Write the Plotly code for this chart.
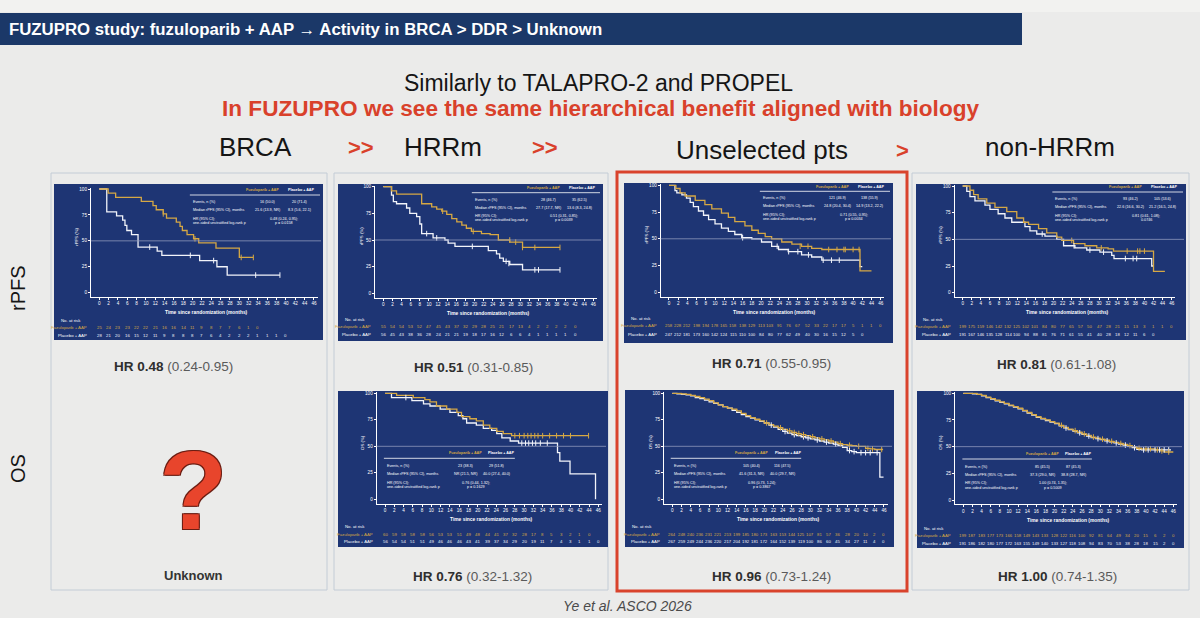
import plotly.graph_objects as go

W, H = 1200, 618
FONT = "Liberation Sans, Arial, sans-serif"
BG = "#ebebea"
NAVY = "#1e3574"
GOLD = "#d6a844"
WHITE = "#f2f4fa"
RED = "#d9412b"
TINY = 4.3
TAB = 3.7

# ---------------- data ----------------
tick_months = list(range(0, 47, 2))

# BRCA rPFS
brca_rpfs_fuzu_t = [0, 1.9, 3.5, 9.0, 11.5, 12.2, 13.7, 14.4, 16.5, 17.3, 17.8, 18.8, 20.2, 21.3, 25.0, 30.0, 33.0]
brca_rpfs_fuzu_s = [100, 96, 92, 88, 84, 80, 76, 72, 68, 64, 60, 56, 52, 48, 43, 34, 34]
brca_rpfs_plac_t = [0, 1.6, 3.7, 5.0, 5.5, 5.9, 6.9, 8.3, 12.4, 13.4, 21.5, 25.2, 27.4, 38.7]
brca_rpfs_plac_s = [100, 78, 74, 70, 65, 60, 56, 44, 40, 36, 31, 25, 17, 17]
brca_rpfs_fuzu_cens_t = [13.7, 20.5, 30.4, 33.0]
brca_rpfs_fuzu_cens_s = [76, 52, 34, 34]
brca_rpfs_plac_cens_t = [10.8, 19.5, 24.5, 33.5, 38.7]
brca_rpfs_plac_cens_s = [44, 36, 31, 17, 17]
brca_rpfs_risk_fuzu = [25, 24, 23, 23, 22, 22, 21, 16, 16, 14, 11, 9, 8, 7, 7, 6, 1, 0]
brca_rpfs_risk_plac = [28, 21, 20, 16, 15, 12, 11, 9, 8, 8, 8, 7, 6, 4, 2, 2, 2, 1, 1, 1, 0]
brca_rpfs_table = [("16 (50.0)", "20 (71.4)"), ("21.6 (13.9, NR)", "8.3 (5.6, 22.1)"), "0.48 (0.24, 0.95);", "p = 0.0158"]

# HRRm rPFS
hrrm_rpfs_fuzu_t = [0, 1.8, 2.9, 8.4, 10.6, 11.7, 12.8, 13.9, 15.0, 16.1, 17.2, 18.2, 19.3, 21.5, 23.4, 25.2, 27.7, 30.5, 38.7]
hrrm_rpfs_fuzu_s = [100, 96, 93, 84, 81, 79, 77, 74, 70, 67, 64, 61, 58, 56, 55, 50, 48, 43, 43]
hrrm_rpfs_plac_t = [0, 1.8, 2.2, 2.9, 5.1, 5.8, 7.3, 8.0, 8.4, 10.9, 13.5, 14.2, 15.7, 23.0, 24.8, 25.5, 26.3, 27.7, 30.5, 38.7]
hrrm_rpfs_plac_s = [100, 92, 86, 84, 80, 75, 72, 65, 56, 52, 50, 47, 44, 40, 37, 33, 30, 27, 22, 22]
hrrm_rpfs_fuzu_cens_t = [13.0, 19.7, 27.7, 29.0, 30.5, 33.2, 38.7]
hrrm_rpfs_fuzu_cens_s = [77, 58, 50, 48, 43, 43, 43]
hrrm_rpfs_plac_cens_t = [9.5, 11.7, 19.5, 26.9, 27.5, 33.2, 34.0, 38.7]
hrrm_rpfs_plac_cens_s = [56, 52, 44, 30, 28, 22, 22, 22]
hrrm_rpfs_risk_fuzu = [55, 54, 54, 53, 52, 47, 45, 43, 37, 32, 29, 28, 25, 21, 17, 13, 4, 2, 2, 2, 2, 0]
hrrm_rpfs_risk_plac = [56, 45, 43, 38, 36, 28, 24, 21, 21, 19, 18, 17, 16, 12, 6, 6, 4, 1, 1, 1, 1, 0]
hrrm_rpfs_table = [("28 (46.7)", "35 (62.5)"), ("27.7 (17.7, NR)", "13.6 (8.3, 24.8)"), "0.51 (0.31, 0.85);", "p = 0.0039"]

# Unselected rPFS
unsel_rpfs_fuzu_t = [0, 1.5, 2.4, 3.5, 5.7, 7.8, 9.3, 11.4, 12.9, 14.3, 16.5, 18.0, 19.4, 20.9, 22.3, 24.5, 26.7, 28.8, 31.0, 33.2, 41.5, 44.0]
unsel_rpfs_fuzu_s = [100, 97, 93, 90, 86, 82, 78, 74, 70, 66, 62, 58, 55, 52, 50, 47, 45, 43, 41, 40, 20, 20]
unsel_rpfs_plac_t = [0, 1.3, 1.7, 2.8, 3.8, 4.6, 5.3, 6.4, 7.5, 8.6, 10.0, 11.4, 12.9, 14.3, 15.8, 18.0, 20.1, 22.3, 23.8, 25.9, 28.8, 31.0, 33.2, 41.5, 42.0]
unsel_rpfs_plac_s = [100, 95, 93, 91, 88, 84, 80, 76, 72, 68, 64, 60, 57, 54, 51, 50, 47, 43, 40, 38, 35, 33, 30, 24, 24]
unsel_rpfs_fuzu_cens_t = [28.5, 30.2, 34.7, 36.5, 38.0, 38.3, 40.0, 41.3]
unsel_rpfs_fuzu_cens_s = [43, 43, 40, 40, 40, 40, 40, 40]
unsel_rpfs_plac_cens_t = [16.0, 23.5, 26.0, 28.0, 30.3, 33.5, 35.3, 37.0]
unsel_rpfs_plac_cens_s = [51, 43, 38, 38, 35, 30, 30, 30]
unsel_rpfs_risk_fuzu = [258, 228, 212, 198, 194, 178, 165, 158, 138, 129, 113, 103, 91, 76, 67, 52, 33, 22, 17, 17, 5, 1, 1, 0]
unsel_rpfs_risk_plac = [247, 212, 181, 173, 160, 142, 124, 115, 110, 100, 84, 80, 77, 62, 49, 40, 30, 16, 15, 12, 5, 0]
unsel_rpfs_table = [("121 (46.9)", "138 (55.9)"), ("24.8 (20.4, 30.4)", "14.9 (13.2, 22.2)"), "0.71 (0.55, 0.95);", "p = 0.0034"]

# non-HRRm rPFS
nonhrr_rpfs_fuzu_t = [0, 1.6, 2.4, 3.4, 5.3, 7.1, 9.7, 11.9, 13.4, 14.5, 16.7, 18.5, 20.7, 21.8, 24.4, 26.9, 29.5, 32.0, 33.2, 42.0, 44.5]
nonhrr_rpfs_fuzu_s = [100, 96, 92, 88, 84, 80, 76, 70, 66, 64, 60, 56, 52, 49, 46, 44, 42, 41, 39, 20, 20]
nonhrr_rpfs_plac_t = [0, 0.9, 1.6, 2.7, 4.9, 6.0, 7.8, 9.3, 10.8, 13.7, 14.8, 16.3, 18.1, 20.7, 22.2, 24.7, 27.3, 30.2, 32.8, 33.3, 41.6, 42.0]
nonhrr_rpfs_plac_s = [100, 95, 90, 86, 82, 78, 74, 70, 66, 62, 58, 55, 53, 50, 44, 42, 40, 38, 35, 32, 25, 25]
nonhrr_rpfs_fuzu_cens_t = [24.0, 30.5, 36.2, 38.5, 39.0, 40.0]
nonhrr_rpfs_fuzu_cens_s = [49, 42, 39, 39, 39, 39]
nonhrr_rpfs_plac_cens_t = [17.5, 24.5, 28.0, 31.0, 35.8, 37.5, 38.3]
nonhrr_rpfs_plac_cens_s = [55, 44, 40, 38, 32, 32, 32]
nonhrr_rpfs_risk_fuzu = [199, 175, 159, 146, 142, 132, 125, 102, 101, 84, 80, 77, 65, 57, 50, 47, 28, 21, 15, 13, 3, 1, 1, 0]
nonhrr_rpfs_risk_plac = [191, 167, 146, 135, 128, 114, 100, 94, 88, 81, 76, 71, 61, 55, 41, 40, 28, 18, 12, 11, 6, 0]
nonhrr_rpfs_table = [("93 (46.2)", "105 (53.6)"), ("22.6 (16.6, 30.2)", "21.2 (16.5, 24.8)"), "0.81 (0.61, 1.08);", "0.0746"]

# HRRm OS
hrrm_os_fuzu_t = [0, 2.5, 6.1, 8.6, 9.7, 11.1, 13.3, 15.5, 16.5, 18.3, 19.7, 21.2, 22.6, 24.1, 25.5, 27.3, 43.9]
hrrm_os_fuzu_s = [100, 98, 96, 94, 92, 88, 85, 82, 78, 76, 74, 70, 67, 64, 62, 60, 60]
hrrm_os_plac_t = [0, 1.4, 5.8, 8.3, 9.7, 11.9, 14.0, 15.8, 16.8, 17.6, 19.7, 21.2, 23.0, 24.1, 25.2, 27.0, 28.8, 37.2, 37.7, 39.9, 45.4]
hrrm_os_plac_s = [100, 96, 93, 90, 88, 85, 82, 79, 76, 72, 70, 67, 65, 62, 58, 55, 53, 44, 36, 24, 0]
hrrm_os_fuzu_cens_t = [28.0, 29.0, 30.0, 30.8, 31.5, 32.3, 33.0, 34.0, 35.5, 37.0, 38.5, 40.0, 43.9]
hrrm_os_fuzu_cens_s = [60, 60, 60, 60, 60, 60, 60, 60, 60, 60, 60, 60, 60]
hrrm_os_plac_cens_t = [4.5, 29.5, 30.3, 31.0, 31.8, 32.5, 33.5, 35.0]
hrrm_os_plac_cens_s = [96, 53, 53, 53, 53, 53, 53, 53]
hrrm_os_risk_fuzu = [60, 59, 58, 58, 58, 56, 53, 53, 51, 49, 48, 44, 41, 37, 32, 28, 17, 8, 5, 3, 2, 1, 0]
hrrm_os_risk_plac = [56, 54, 54, 51, 51, 49, 46, 46, 46, 43, 41, 39, 37, 34, 29, 20, 19, 11, 7, 4, 3, 1, 1, 0]
hrrm_os_table = [("23 (38.3)", "29 (51.8)"), ("NR (21.5, NR)", "40.0 (27.4, 40.0)"), "0.76 (0.44, 1.32);", "p = 0.1629"]

# Unselected OS
unsel_os_fuzu_t = [0, 1, 2, 3, 4, 5, 6, 7, 8, 9, 10, 11, 12, 13, 14, 15, 16, 17, 18, 19, 20, 21, 22, 23, 24, 25, 26, 27, 28, 29, 30, 31, 32, 33, 34, 35, 36, 37, 38, 39, 40, 41, 42, 43, 44, 45, 45.8]
unsel_os_fuzu_s = [100, 100, 99.5, 99, 98, 97, 96, 94.5, 93, 91, 89, 87.5, 86, 85, 83.5, 81, 79, 77, 75.5, 74, 72, 70.5, 69, 67.5, 66, 64.5, 63, 62, 61, 60, 59, 58, 57, 56, 55, 54, 52.5, 51.5, 51, 50.5, 50, 50, 48, 47.5, 47, 47, 47]
unsel_os_plac_t = [0, 1, 2, 3, 4, 5, 6, 7, 8, 9, 10, 11, 12, 13, 14, 15, 16, 17, 18, 19, 20, 21, 22, 23, 24, 25, 26, 27, 28, 29, 30, 31, 32, 33, 34, 35, 36, 37, 38, 39, 40, 45.1, 45.9]
unsel_os_plac_s = [100, 99.5, 99, 98.5, 97.5, 96, 95, 93.5, 92, 90.5, 89, 87.5, 86, 84, 82, 80, 78, 76.5, 75, 73.5, 72, 70, 68, 66, 64, 62.5, 61, 60, 59, 58, 57, 56, 55, 54, 53, 52, 51, 49, 46, 45, 44, 21, 21]
unsel_os_fuzu_cens_t = [20.5, 23.5, 25.5, 26.5, 27.5, 28.5, 30.5, 32.5, 34.5, 36.5, 38.5, 40.5, 42.5, 43.5, 45.5]
unsel_os_fuzu_cens_s = [72, 67.5, 64.5, 63, 62, 61, 59, 57, 55, 52.5, 51, 50, 48, 47.5, 47]
unsel_os_plac_cens_t = [21.5, 24.5, 26.5, 28.5, 29.5, 31.5, 33.5, 35.5, 38.5, 39.5, 41.0, 42.0, 43.0, 44.5]
unsel_os_plac_cens_s = [70, 64, 61, 59, 58, 56, 54, 52, 46, 45, 44, 44, 44, 44]
unsel_os_risk_fuzu = [264, 248, 240, 236, 231, 221, 213, 199, 185, 180, 173, 163, 153, 144, 125, 107, 81, 57, 36, 28, 20, 10, 2, 0]
unsel_os_risk_plac = [267, 259, 249, 244, 236, 220, 217, 204, 192, 181, 172, 164, 152, 139, 119, 100, 86, 60, 45, 34, 27, 11, 4, 0]
unsel_os_table = [("105 (40.4)", "116 (47.5)"), ("41.6 (31.3, NR)", "40.0 (29.7, NR)"), "0.96 (0.73, 1.24);", "p = 0.3867"]

# non-HRRm OS
nonhrr_os_fuzu_t = [0, 1, 2, 3, 4, 5, 6, 7, 8, 9, 10, 11, 12, 13, 14, 15, 16, 17, 18, 19, 20, 21, 22, 23, 24, 25, 26, 27, 28, 29, 30, 31, 32, 33, 34, 35, 36, 37, 38, 39, 42, 43, 44, 46]
nonhrr_os_fuzu_s = [100, 100, 100, 99, 98, 96.5, 95, 93.5, 92, 90.5, 89, 87.5, 86, 84, 82, 80, 78, 76.5, 75, 73.5, 72, 70, 68, 66.5, 65, 63.5, 62, 60.5, 59, 58, 57, 56, 55, 54, 53, 52, 51, 50, 48.5, 48, 47, 46, 45, 45]
nonhrr_os_plac_t = [0, 1, 2, 3, 4, 5, 6, 7, 8, 9, 10, 11, 12, 13, 14, 15, 16, 17, 18, 19, 20, 21, 22, 23, 24, 25, 26, 27, 28, 29, 30, 31, 32, 33, 34, 35, 36, 37, 38, 39, 45.5]
nonhrr_os_plac_s = [100, 100, 99.5, 99, 97.5, 96, 94.5, 93, 91.5, 90, 88.5, 87, 85.5, 83.5, 81.5, 79.5, 77.5, 76, 74.5, 73, 71.5, 69.5, 67.5, 66, 64.5, 63, 61.5, 60, 58.5, 57.5, 56.5, 55.5, 54.5, 53.5, 52.5, 51.5, 50.5, 49, 47.5, 47, 47]
nonhrr_os_fuzu_cens_t = [21.5, 24.5, 26.5, 28.5, 30.5, 32.5, 34.5, 36.5, 38.5, 40.0, 41.0, 42.5, 43.5, 45.0]
nonhrr_os_fuzu_cens_s = [70, 65, 62, 59, 57, 55, 53, 51, 48.5, 48, 48, 47, 46, 45]
nonhrr_os_plac_cens_t = [22.5, 25.5, 27.5, 29.5, 31.5, 33.5, 35.5, 37.5, 39.5, 40.5, 42.0, 43.0, 44.0, 45.0]
nonhrr_os_plac_cens_s = [67.5, 63, 60, 57.5, 55.5, 53.5, 51.5, 49, 47, 47, 47, 47, 47, 47]
nonhrr_os_risk_fuzu = [199, 187, 183, 177, 173, 166, 158, 149, 143, 133, 128, 122, 116, 100, 92, 81, 64, 49, 34, 20, 15, 6, 2, 0]
nonhrr_os_risk_plac = [191, 186, 182, 180, 177, 172, 163, 155, 149, 140, 133, 127, 118, 108, 94, 83, 70, 53, 38, 28, 18, 15, 2, 0]
nonhrr_os_table = [("85 (45.5)", "87 (45.3)"), ("37.3 (29.0, NR)", "38.8 (28.7, NR)"), "1.00 (0.74, 1.35);", "p = 0.5009"]

hr_labels = [
    (173.5, 366, "HR 0.48", "(0.24-0.95)"),
    (473, 367, "HR 0.51", "(0.31-0.85)"),
    (771, 363, "HR 0.71", "(0.55-0.95)"),
    (1056, 364, "HR 0.81", "(0.61-1.08)"),
    (472, 576, "HR 0.76", "(0.32-1.32)"),
    (771, 576, "HR 0.96", "(0.73-1.24)"),
    (1057, 576, "HR 1.00", "(0.74-1.35)"),
]

# ---------------- helpers ----------------
shapes, annotations = [], []


def X(p):
    return p / W


def Y(p):
    return 1 - p / H


def txt(x, y, s, size, color, xanchor="center", yanchor="middle", **kw):
    annotations.append(dict(x=X(x), y=Y(y), xref="paper", yref="paper", text=s, showarrow=False,
                            font=dict(size=size, color=color, family=FONT),
                            xanchor=xanchor, yanchor=yanchor, borderpad=0, **kw))


def rect(x0, y0, x1, y1, fill=None, line=None, lw=0):
    shapes.append(dict(type="rect", xref="paper", yref="paper", x0=X(x0), x1=X(x1), y0=Y(y1), y1=Y(y0),
                       fillcolor=fill if fill else "rgba(0,0,0,0)",
                       line=dict(color=line if line else "rgba(0,0,0,0)", width=lw), layer="below"))


charts = [
    dict(geom=(54, 184, 323, 340, 99.3, 314, 292.7, 189, 327.7, 335.3), kind="rPFS",
         fuzu=(brca_rpfs_fuzu_t, brca_rpfs_fuzu_s), plac=(brca_rpfs_plac_t, brca_rpfs_plac_s),
         fc=(brca_rpfs_fuzu_cens_t, brca_rpfs_fuzu_cens_s), pc=(brca_rpfs_plac_cens_t, brca_rpfs_plac_cens_s),
         rf=brca_rpfs_risk_fuzu, rp=brca_rpfs_risk_plac, table=brca_rpfs_table),
    dict(geom=(338, 184, 603, 341, 383.3, 593.3, 293.3, 186.7, 326.7, 334.3), kind="rPFS",
         fuzu=(hrrm_rpfs_fuzu_t, hrrm_rpfs_fuzu_s), plac=(hrrm_rpfs_plac_t, hrrm_rpfs_plac_s),
         fc=(hrrm_rpfs_fuzu_cens_t, hrrm_rpfs_fuzu_cens_s), pc=(hrrm_rpfs_plac_cens_t, hrrm_rpfs_plac_cens_s),
         rf=hrrm_rpfs_risk_fuzu, rp=hrrm_rpfs_risk_plac, table=hrrm_rpfs_table),
    dict(geom=(624, 183, 893, 343, 669, 880.7, 292.3, 185.3, 325.7, 334), kind="rPFS",
         fuzu=(unsel_rpfs_fuzu_t, unsel_rpfs_fuzu_s), plac=(unsel_rpfs_plac_t, unsel_rpfs_plac_s),
         fc=(unsel_rpfs_fuzu_cens_t, unsel_rpfs_fuzu_cens_s), pc=(unsel_rpfs_plac_cens_t, unsel_rpfs_plac_cens_s),
         rf=unsel_rpfs_risk_fuzu, rp=unsel_rpfs_risk_plac, table=unsel_rpfs_table),
    dict(geom=(916, 184, 1186, 340, 962.7, 1171.7, 292.7, 186, 326.7, 334.7), kind="rPFS",
         fuzu=(nonhrr_rpfs_fuzu_t, nonhrr_rpfs_fuzu_s), plac=(nonhrr_rpfs_plac_t, nonhrr_rpfs_plac_s),
         fc=(nonhrr_rpfs_fuzu_cens_t, nonhrr_rpfs_fuzu_cens_s), pc=(nonhrr_rpfs_plac_cens_t, nonhrr_rpfs_plac_cens_s),
         rf=nonhrr_rpfs_risk_fuzu, rp=nonhrr_rpfs_risk_plac, table=nonhrr_rpfs_table),
    dict(geom=(338, 391, 608, 547, 385, 598.3, 499.3, 393.3, 534, 541.7), kind="OS",
         fuzu=(hrrm_os_fuzu_t, hrrm_os_fuzu_s), plac=(hrrm_os_plac_t, hrrm_os_plac_s),
         fc=(hrrm_os_fuzu_cens_t, hrrm_os_fuzu_cens_s), pc=(hrrm_os_plac_cens_t, hrrm_os_plac_cens_s),
         rf=hrrm_os_risk_fuzu, rp=hrrm_os_risk_plac, table=hrrm_os_table),
    dict(geom=(625, 390, 894, 547, 672.3, 884, 499.3, 393.3, 534, 541), kind="OS",
         fuzu=(unsel_os_fuzu_t, unsel_os_fuzu_s), plac=(unsel_os_plac_t, unsel_os_plac_s),
         fc=(unsel_os_fuzu_cens_t, unsel_os_fuzu_cens_s), pc=(unsel_os_plac_cens_t, unsel_os_plac_cens_s),
         rf=unsel_os_risk_fuzu, rp=unsel_os_risk_plac, table=unsel_os_table),
    dict(geom=(917, 391, 1184, 548, 963.3, 1173.3, 500, 393.3, 535.7, 543.3), kind="OS",
         fuzu=(nonhrr_os_fuzu_t, nonhrr_os_fuzu_s), plac=(nonhrr_os_plac_t, nonhrr_os_plac_s),
         fc=(nonhrr_os_fuzu_cens_t, nonhrr_os_fuzu_cens_s), pc=(nonhrr_os_plac_cens_t, nonhrr_os_plac_cens_s),
         rf=nonhrr_os_risk_fuzu, rp=nonhrr_os_risk_plac, table=nonhrr_os_table),
]

fig = go.Figure()
layout_axes = {}

# page frame boxes
rect(0, 0, 1200, 12, fill="#f2f2f0")
rect(0, 13, 1022, 45, fill="#1b3868")
rect(51, 173, 327, 590, line="#c3ccd6", lw=1)
rect(334, 173, 608, 590, line="#c3ccd6", lw=1)
rect(912, 173, 1189, 590, line="#c3ccd6", lw=1)

XR = (-1.8, 46.8)
YR = (-4, 101)

for i, c in enumerate(charts):
    n = i + 1
    nx0, ny0, nx1, ny1, px0, px46, py0, py100, rowf, rowp = c["geom"]
    kx = (px46 - px0) / 46.0
    ky = (py0 - py100) / 100.0
    xl = px0 + XR[0] * kx
    xr = px0 + XR[1] * kx
    yb = py0 - YR[0] * ky
    yt = py0 - YR[1] * ky
    xa = "x" if n == 1 else f"x{n}"
    ya = "y" if n == 1 else f"y{n}"
    rect(nx0, ny0, nx1, ny1, fill=NAVY)
    axcommon = dict(showgrid=False, zeroline=False, showline=True, linecolor="white", linewidth=1,
                    ticks="outside", ticklen=2, tickcolor="white", tickwidth=0.8,
                    tickfont=dict(size=TINY + 0.3, color="white", family=FONT), fixedrange=True)
    layout_axes["xaxis" if n == 1 else f"xaxis{n}"] = dict(
        domain=[X(xl), X(xr)], range=list(XR), anchor=ya, tickvals=tick_months, **axcommon)
    layout_axes["yaxis" if n == 1 else f"yaxis{n}"] = dict(
        domain=[Y(yb), Y(yt)], range=list(YR), anchor=xa, tickvals=[0, 25, 50, 75, 100], **axcommon)

    # 50% reference line
    shapes.append(dict(type="line", xref="paper", yref=ya, x0=X(xl), x1=X(nx1 - 2), y0=50, y1=50,
                       line=dict(color="#8e98bb", width=0.8)))

    # curves
    for (t, s), col in ((c["plac"], WHITE), (c["fuzu"], GOLD)):
        fig.add_trace(go.Scatter(x=t, y=s, mode="lines", line=dict(color=col, width=1.3, shape="hv"),
                                 xaxis=xa, yaxis=ya, hoverinfo="skip", showlegend=False))
    for (t, s), col in ((c["pc"], WHITE), (c["fc"], GOLD)):
        fig.add_trace(go.Scatter(x=t, y=s, mode="markers",
                                 marker=dict(symbol="line-ns", size=4, line=dict(color=col, width=1)),
                                 xaxis=xa, yaxis=ya, hoverinfo="skip", showlegend=False))

    # numbers at risk (placed on the chart's own month axis)
    for vals, rowy, col in ((c["rf"], rowf, GOLD), (c["rp"], rowp, WHITE)):
        for m, v in zip(tick_months, vals):
            annotations.append(dict(x=m, y=Y(rowy), xref=xa, yref="paper", text=str(v), showarrow=False,
                                    font=dict(size=TINY, color=col, family=FONT),
                                    xanchor="center", yanchor="middle", borderpad=0))
    txt(nx0 + 17, rowf - 7.5, "No. at risk", TINY, "white")
    txt(xl - 3, rowf, "Fuzuloparib + AAP", TINY, GOLD, xanchor="right")
    txt(xl - 3, rowp, "Placebo + AAP", TINY, "white", xanchor="right")

    # axis titles
    txt((px0 + px46) / 2, py0 + 20, "<b>Time since randomization (months)</b>", TINY + 0.6, "white")
    txt(xl - 14, (py0 + py100) / 2 - 4, "rPFS (%)" if c["kind"] == "rPFS" else "OS (%)", TINY, "white",
        textangle=-90)

    # summary table
    nw = nx1 - nx0
    if c["kind"] == "rPFS":
        lx0, lx1 = nx0 + 0.505 * nw, nx1 - 3
        ly = py100 + 6
        hy = py100 + 1.5
        rows_y = [py100 + 13, py100 + 21, py100 + 29.5, py100 + 33.5]
        fr = dict(v1=0.6, v2=0.84, hr=0.72, h1=0.56, h2=0.86)
    else:
        lx0, lx1 = nx0 + 0.17 * nw, nx0 + 0.655 * nw
        ly = py0 - 41
        hy = py0 - 46
        rows_y = [py0 - 33, py0 - 25, py0 - 16.5, py0 - 12.5]
        fr = dict(v1=0.62, v2=0.86, hr=0.70, h1=0.62, h2=0.9)
    lw_ = lx1 - lx0
    shapes.append(dict(type="line", xref="paper", yref="paper", x0=X(lx0), x1=X(lx1), y0=Y(ly), y1=Y(ly),
                       line=dict(color="white", width=0.8)))
    txt(lx0 + fr["h1"] * lw_, hy, "<b>Fuzuloparib + AAP</b>", TAB, GOLD)
    txt(lx0 + fr["h2"] * lw_, hy, "<b>Placebo + AAP</b>", TAB, "white")
    tb = c["table"]
    txt(lx0 + 2, rows_y[0], "Events, n (%)", TAB, "white", xanchor="left")
    txt(lx0 + fr["v1"] * lw_, rows_y[0], tb[0][0], TAB, "white")
    txt(lx0 + fr["v2"] * lw_, rows_y[0], tb[0][1], TAB, "white")
    txt(lx0 + 2, rows_y[1], "Median rPFS (95% CI), months", TAB, "white", xanchor="left")
    txt(lx0 + fr["v1"] * lw_, rows_y[1], tb[1][0], TAB, "white")
    txt(lx0 + fr["v2"] * lw_, rows_y[1], tb[1][1], TAB, "white")
    txt(lx0 + 2, rows_y[2], "HR (95% CI);", TAB, "white", xanchor="left")
    txt(lx0 + 2, rows_y[3], "one-sided unstratified log-rank p", TAB, "white", xanchor="left")
    txt(lx0 + fr["hr"] * lw_, rows_y[2], tb[2], TAB, "white")
    txt(lx0 + fr["hr"] * lw_, rows_y[3], tb[3], TAB, "white")

# red highlight box (drawn above navy)
shapes.append(dict(type="rect", xref="paper", yref="paper", x0=X(617), x1=X(907), y0=Y(591), y1=Y(172),
                   line=dict(color="#d9432c", width=3), fillcolor="rgba(0,0,0,0)", layer="above"))

# ---------------- page text ----------------
txt(8, 29.5, "<b>FUZUPRO study: fuzuloparib + AAP \u2192 Activity in BRCA > DDR > Unknown</b>", 16.8, "white",
    xanchor="left")
txt(598, 83, "Similarly to TALAPRO-2 and PROPEL", 23, "#151515")
txt(600, 108, "<b>In FUZUPRO we see the same hierarchical benefit aligned with biology</b>", 22.6, RED)
txt(255, 147, "BRCA", 26, "#151515")
txt(361, 147, "<b>>></b>", 22, RED)
txt(443, 147, "HRRm", 26, "#151515")
txt(545, 147, "<b>>></b>", 22, RED)
txt(762, 150, "Unselected pts", 26, "#151515")
txt(902, 150, "<b>></b>", 22, RED)
txt(1050, 147, "non-HRRm", 26, "#151515")
txt(18, 288, "rPFS", 20, "#151515", textangle=-90)
txt(18, 469, "OS", 20, "#151515", textangle=-90)

for x, y, b, r in hr_labels:
    txt(x, y, f"<b>{b}</b> <span style='color:#5a5a5a'>{r}</span>", 13.5, "#2e2e2e")

txt(193.5, 575, "<b>Unknown</b>", 13, "#333333")
annotations.append(dict(x=X(193), y=Y(490), xref="paper", yref="paper", text="<b>?</b>", showarrow=False,
                        font=dict(size=112, color="#e8452c", family=FONT,
                                  shadow="-1px -1px 0 #6b1d12, 1px -1px 0 #6b1d12, -1px 1px 0 #6b1d12, 1px 1px 0 #6b1d12"),
                        xanchor="center", yanchor="middle"))
txt(627, 606, "<i>Ye et al. ASCO 2026</i>", 14, "#4a4a4a")

fig.update_layout(width=W, height=H, margin=dict(l=0, r=0, t=0, b=0), paper_bgcolor=BG,
                  plot_bgcolor="rgba(0,0,0,0)", showlegend=False, shapes=shapes, annotations=annotations,
                  font=dict(family=FONT), **layout_axes)
fig.write_html("out.html", config={"displayModeBar": False})
